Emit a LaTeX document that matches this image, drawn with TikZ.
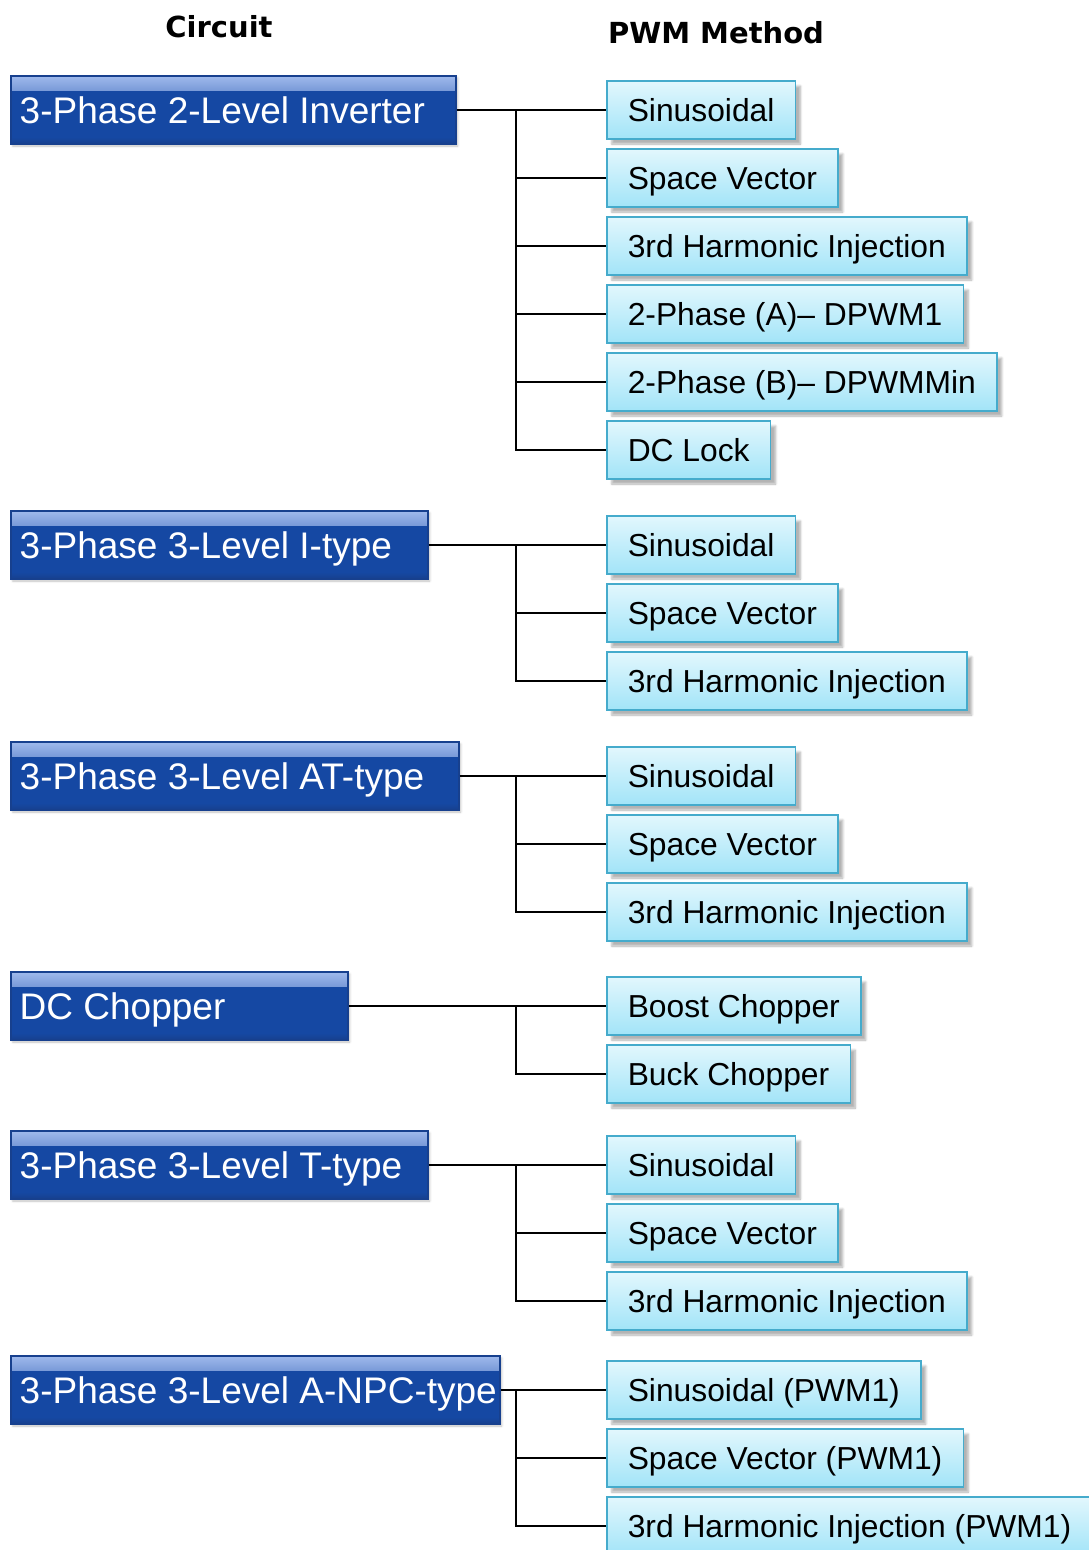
\documentclass[tikz,border=0pt]{standalone}
\usepackage{fontspec}
\setmainfont{Liberation Sans}
\newfontfamily\hdfont{DejaVu Sans}
\usetikzlibrary{shadows.blur}
\definecolor{dkblue}{HTML}{1548A3}
\definecolor{dkedge}{HTML}{17408E}
\definecolor{dktop}{HTML}{9FB9EC}
\definecolor{ltop}{HTML}{E2F7FD}
\definecolor{lbot}{HTML}{A2E4F8}
\definecolor{ledge}{HTML}{45ABCC}
\newcommand\dklabel[2]{\makebox[#1pt][l]{#2}}
\tikzset{
  header/.style={font=\hdfont\bfseries\fontsize{29}{34}\selectfont, inner sep=0pt},
  circ/.style={anchor=west, draw=dkedge, line width=1.5pt, fill=dkblue, text=white,
    minimum height=68pt, inner xsep=9pt, inner ysep=0pt,
    text height=26.5pt, text depth=0pt,
    font=\fontsize{37}{44}\selectfont,
    path picture={
      \shade[top color=dktop, bottom color=dkblue, middle color=dkblue!65!dktop]
        (path picture bounding box.north west) rectangle
        ([yshift=-14pt]path picture bounding box.north east);
      \shade[top color=dkblue, bottom color=dkedge]
        ([yshift=7pt]path picture bounding box.south west) rectangle
        (path picture bounding box.south east);
    },
    blur shadow={shadow xshift=2pt, shadow yshift=-2pt, shadow blur steps=4, shadow opacity=25}},
  meth/.style={anchor=west, draw=ledge, line width=1.5pt, top color=ltop, bottom color=lbot,
    minimum height=58pt, inner xsep=21pt, inner ysep=0pt,
    text height=22.6pt, text depth=0pt,
    font=\fontsize{31.8}{38}\selectfont,
    blur shadow={shadow xshift=5pt, shadow yshift=-5pt, shadow blur steps=6, shadow opacity=30}},
  link/.style={line width=1.8pt, draw=black}
}
\begin{document}
\begin{tikzpicture}[x=1pt,y=-1pt]
\useasboundingbox (0,0) rectangle (1089,1550);

\node[header] (hc) at (219,27) {Circuit};
\node[header] (hp) at (716,33) {PWM Method};

% Group 1
\node[circ] (p1) at (10,110) {\dklabel{427}{3-Phase 2-Level Inverter}};
\node[meth] (a1) at (606,110) {Sinusoidal};
\node[meth] (a2) at (606,178) {Space Vector};
\node[meth] (a3) at (606,246) {3rd Harmonic Injection};
\node[meth] (a4) at (606,314) {2-Phase (A)– DPWM1};
\node[meth] (a5) at (606,382) {2-Phase (B)– DPWMMin};
\node[meth] (a6) at (606,450) {DC Lock};
\coordinate (ta) at (516,110);
\draw[link] (p1.east) -- (a1.west);
\draw[link] (ta) |- (a6.west);
\foreach \n in {a2,a3,a4,a5} \draw[link] (ta |- \n.west) -- (\n.west);

% Group 2
\node[circ] (p2) at (10,545) {\dklabel{399}{3-Phase 3-Level I-type}};
\node[meth] (b1) at (606,545) {Sinusoidal};
\node[meth] (b2) at (606,613) {Space Vector};
\node[meth] (b3) at (606,681) {3rd Harmonic Injection};
\coordinate (tb) at (516,545);
\draw[link] (p2.east) -- (b1.west);
\draw[link] (tb) |- (b3.west);
\draw[link] (tb |- b2.west) -- (b2.west);

% Group 3
\node[circ] (p3) at (10,776) {\dklabel{430}{3-Phase 3-Level AT-type}};
\node[meth] (c1) at (606,776) {Sinusoidal};
\node[meth] (c2) at (606,844) {Space Vector};
\node[meth] (c3) at (606,912) {3rd Harmonic Injection};
\coordinate (tc) at (516,776);
\draw[link] (p3.east) -- (c1.west);
\draw[link] (tc) |- (c3.west);
\draw[link] (tc |- c2.west) -- (c2.west);

% Group 4
\node[circ] (p4) at (10,1006) {\dklabel{319}{DC Chopper}};
\node[meth] (d1) at (606,1006) {Boost Chopper};
\node[meth] (d2) at (606,1074) {Buck Chopper};
\coordinate (td) at (516,1006);
\draw[link] (p4.east) -- (d1.west);
\draw[link] (td) |- (d2.west);

% Group 5
\node[circ] (p5) at (10,1165) {\dklabel{399}{3-Phase 3-Level T-type}};
\node[meth] (e1) at (606,1165) {Sinusoidal};
\node[meth] (e2) at (606,1233) {Space Vector};
\node[meth] (e3) at (606,1301) {3rd Harmonic Injection};
\coordinate (te) at (516,1165);
\draw[link] (p5.east) -- (e1.west);
\draw[link] (te) |- (e3.west);
\draw[link] (te |- e2.west) -- (e2.west);

% Group 6
\node[circ] (p6) at (10,1390) {\dklabel{471}{3-Phase 3-Level A-NPC-type}};
\node[meth] (f1) at (606,1390) {Sinusoidal (PWM1)};
\node[meth] (f2) at (606,1458) {Space Vector (PWM1)};
\node[meth] (f3) at (606,1526) {3rd Harmonic Injection (PWM1)};
\coordinate (tf) at (516,1390);
\draw[link] (p6.east) -- (f1.west);
\draw[link] (tf) |- (f3.west);
\draw[link] (tf |- f2.west) -- (f2.west);
\end{tikzpicture}
\end{document}
